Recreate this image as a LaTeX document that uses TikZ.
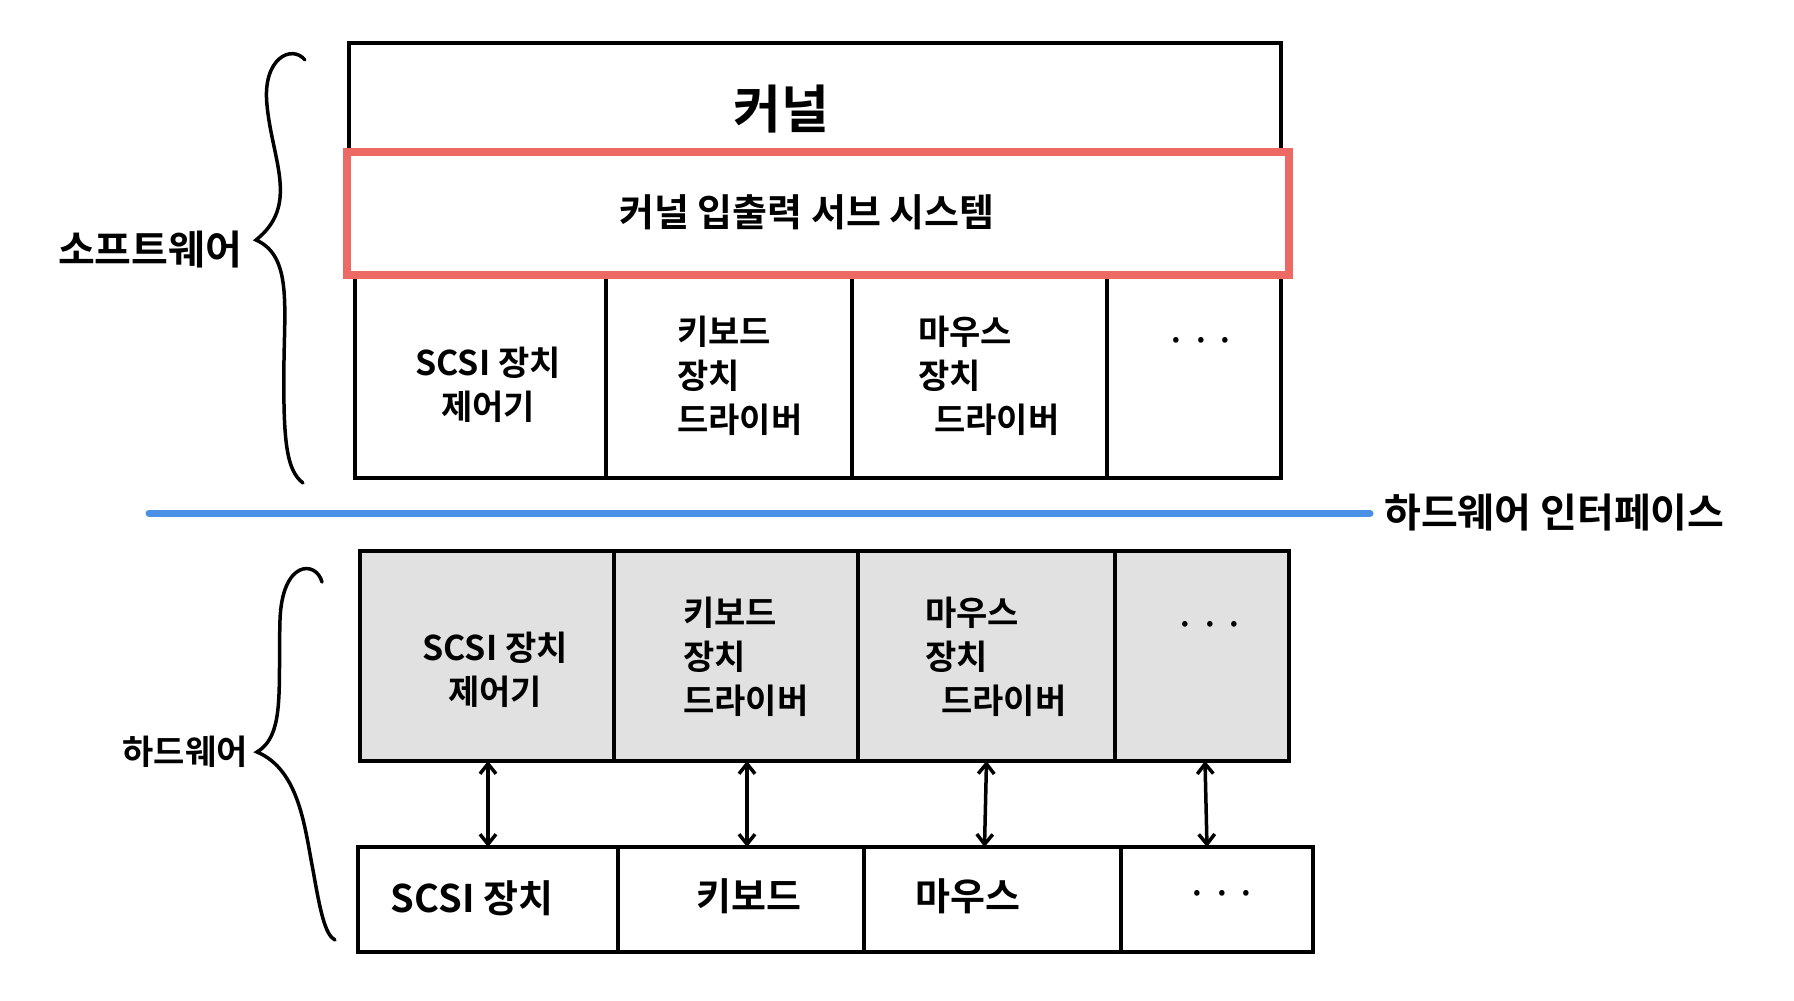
\documentclass[tikz,border=0pt]{standalone}
\usepackage{fontspec}
\setmainfont{Noto Sans CJK KR}[BoldFont={Noto Sans CJK KR Bold}]
\usetikzlibrary{arrows.meta}
\definecolor{redline}{HTML}{EC6A63}
\definecolor{blueline}{HTML}{4A90E6}
\definecolor{grayfill}{HTML}{E1E1E1}
\begin{document}
\begin{tikzpicture}[x=1pt,y=-1pt,
  cell/.style={draw=black, line width=4.5pt, rectangle, inner sep=0pt, outer sep=0pt, anchor=north west},
  hwcell/.style={cell, fill=grayfill},
  redbox/.style={draw=redline, line width=8pt, rectangle, inner sep=0pt, outer sep=0pt, anchor=north west},
  txt/.style={inner sep=0pt, font=\fontsize{34}{44}\selectfont\bfseries},
  bigtxt/.style={inner sep=0pt, font=\fontsize{38}{46}\selectfont\bfseries},
  dots/.style={inner sep=0pt, font=\fontsize{30}{36}\selectfont\bfseries},
  brace/.style={draw=black, line width=3.5pt, line cap=round},
  biarrow/.style={draw=black, line width=3.5pt, {Straight Barb[length=10pt,width=16pt]}-{Straight Barb[length=10pt,width=16pt]}}
]
\useasboundingbox (0,0) rectangle (1794,1001);

% kernel
\node[cell, minimum width=932pt, minimum height=111pt] (kernel) at (349,43) {};
\node[inner sep=0pt, font=\fontsize{52}{60}\selectfont\bfseries] (kerneltxt) at (781,109) {커널};

% driver row
\node[cell, minimum width=251pt, minimum height=203pt] (d1) at (355,275) {};
\node[cell, minimum width=246pt, minimum height=203pt] (d2) at (606,275) {};
\node[cell, minimum width=255pt, minimum height=203pt] (d3) at (852,275) {};
\node[cell, minimum width=174pt, minimum height=203pt] (d4) at (1107,275) {};

% red I/O subsystem box
\node[redbox, minimum width=942pt, minimum height=123pt] (iosub) at (347,152) {};
\node[bigtxt] (iosubtxt) at (807,212) {커널 입출력 서브 시스템};

% driver texts
\node[txt, align=center] (d1txt) at (488,385) {SCSI 장치\\제어기};
\node[txt, align=left, anchor=west] (d2txt) at (677,376) {키보드\\장치\\드라이버};
\node[txt, align=left, anchor=west] (d3txt) at (918,376) {마우스\\장치\\\hspace{16pt}드라이버};
\node[dots] (d4txt) at (1201,344) {· · ·};

% hardware interface line
\coordinate (blueL) at (149,513);
\node[inner sep=0pt, anchor=west, font=\fontsize{40}{46}\selectfont\bfseries] (hwif) at (1384,513) {하드웨어 인터페이스};
\draw[blueline, line width=7pt, line cap=round] (blueL) -- ([xshift=-14pt]hwif.west);

% gray controller row
\node[hwcell, minimum width=254pt, minimum height=210pt] (g1) at (360,551) {};
\node[hwcell, minimum width=244pt, minimum height=210pt] (g2) at (614,551) {};
\node[hwcell, minimum width=257pt, minimum height=210pt] (g3) at (858,551) {};
\node[hwcell, minimum width=174pt, minimum height=210pt] (g4) at (1115,551) {};

\node[txt, align=center] (g1txt) at (495,670) {SCSI 장치\\제어기};
\node[txt, align=left, anchor=west] (g2txt) at (683,657) {키보드\\장치\\드라이버};
\node[txt, align=left, anchor=west] (g3txt) at (925,657) {마우스\\장치\\\hspace{16pt}드라이버};
\node[dots] (g4txt) at (1210,628) {· · ·};

% device row
\node[cell, minimum width=260pt, minimum height=105pt] (b1) at (358,847) {};
\node[cell, minimum width=246pt, minimum height=105pt] (b2) at (618,847) {};
\node[cell, minimum width=257pt, minimum height=105pt] (b3) at (864,847) {};
\node[cell, minimum width=192pt, minimum height=105pt] (b4) at (1121,847) {};

\node[bigtxt] (b1txt) at (472,898) {SCSI 장치};
\node[bigtxt] (b2txt) at (749,896) {키보드};
\node[bigtxt] (b3txt) at (968,896) {마우스};
\node[dots] (b4txt) at (1222,897) {· · ·};

% arrows
\draw[biarrow] ([xshift=1pt]g1.south) -- (b1.north);
\draw[biarrow] ([xshift=11pt]g2.south) -- ([xshift=6pt]b2.north);
\draw[biarrow] (g3.south) -- ([xshift=-8pt]b3.north);
\draw[biarrow] ([xshift=3pt]g4.south) -- ([xshift=-10pt]b4.north);

% braces
\draw[brace] (305,60) .. controls (292,44) and (262,58) .. (267,105)
  .. controls (272,160) and (300,205) .. (256,240)
  .. controls (290,255) and (285,300) .. (284,360)
  .. controls (283,440) and (286,470) .. (303,483);
\node[inner sep=0pt, font=\fontsize{40}{46}\selectfont\bfseries] (swlbl) at (150,250) {소프트웨어};

\draw[brace] (322,582) .. controls (316,560) and (282,560) .. (280,620)
  .. controls (278,690) and (285,735) .. (257,752)
  .. controls (300,770) and (305,830) .. (313,870)
  .. controls (320,910) and (325,935) .. (335,940);
\node[inner sep=0pt, font=\fontsize{34}{40}\selectfont\bfseries] (hwlbl) at (185,752) {하드웨어};

\end{tikzpicture}
\end{document}
